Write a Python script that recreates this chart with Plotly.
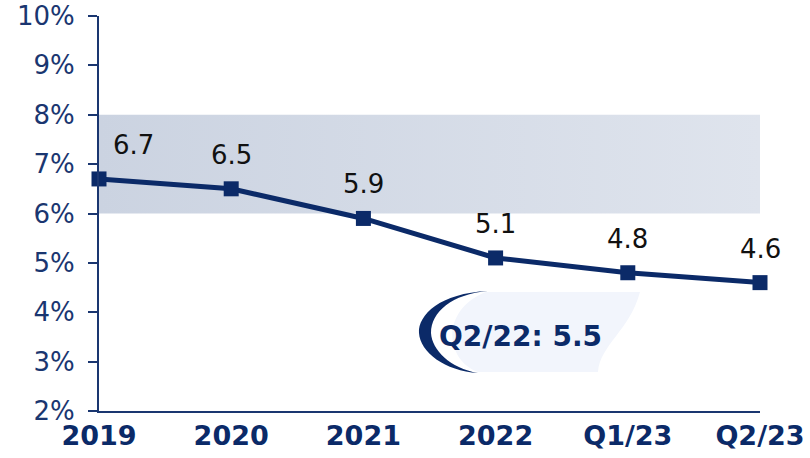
import plotly.graph_objects as go

categories = ["2019", "2020", "2021", "2022", "Q1/23", "Q2/23"]
values = [6.7, 6.5, 5.9, 5.1, 4.8, 4.6]
band_low = 6
band_high = 8
y_ticks = [2, 3, 4, 5, 6, 7, 8, 9, 10]
y_tick_labels = [f"{v}%" for v in y_ticks]
callout_text = "Q2/22: 5.5"

NAVY = "#0b2a68"
TICK = "#1a3670"

xs = list(range(len(categories)))

fig = go.Figure()

# target band with horizontal gradient
fig.add_trace(go.Scatter(
    x=[xs[0], xs[-1], xs[-1], xs[0], xs[0]],
    y=[band_low, band_low, band_high, band_high, band_low],
    mode="lines", line=dict(width=0), fill="toself",
    fillgradient=dict(type="horizontal",
                      colorscale=[[0, "#cbd3e1"], [1, "#dfe4ed"]]),
    hoverinfo="skip", showlegend=False,
))

fig.add_trace(go.Scatter(
    x=xs, y=values, mode="lines+markers",
    line=dict(color=NAVY, width=5),
    marker=dict(symbol="square", size=15, color=NAVY),
    cliponaxis=False, showlegend=False,
))

for i, v in enumerate(values):
    fig.add_annotation(x=xs[i], y=v, text=f"{v}", showarrow=False,
                       yshift=34, xshift=34 if i == 0 else 0,
                       font=dict(family="DejaVu Sans", size=26, color="#111111"))

# callout background (paper coords derived from pixel layout)
L, R, T, B = 99, 760, 16, 411
def px(x): return (x - L) / (R - L)
def py(y): return (B - y) / (B - T)

bg = (f"M {px(486)} {py(292)} L {px(640)} {py(292)} "
      f"C {px(630)} {py(330)}, {px(600)} {py(345)}, {px(598)} {py(372)} "
      f"L {px(478)} {py(372)} C {px(445)} {py(360)}, {px(440)} {py(310)}, {px(486)} {py(292)} Z")
fig.add_shape(type="path", path=bg, xref="paper", yref="paper",
              fillcolor="#f2f5fc", line=dict(width=0), layer="above")

arc = (f"M {px(488)} {py(291)} "
       f"C {px(440)} {py(293)}, {px(418)} {py(315)}, {px(419)} {py(333)} "
       f"C {px(420)} {py(352)}, {px(445)} {py(371)}, {px(478)} {py(373)} "
       f"C {px(450)} {py(368)}, {px(432)} {py(350)}, {px(431)} {py(333)} "
       f"C {px(431)} {py(312)}, {px(452)} {py(294)}, {px(488)} {py(291)} Z")
fig.add_shape(type="path", path=arc, xref="paper", yref="paper",
              fillcolor=NAVY, line=dict(width=0), layer="above")

fig.add_annotation(x=px(520), y=py(336), xref="paper", yref="paper",
                   xanchor="center", yanchor="middle",
                   text=f"<b>{callout_text}</b>", showarrow=False,
                   font=dict(family="DejaVu Sans", size=28, color=NAVY))

fig.update_xaxes(
    range=[xs[0], xs[-1]], tickvals=xs, ticktext=categories,
    showline=True, linecolor=TICK, linewidth=2, showgrid=False,
    ticks="", tickfont=dict(family="DejaVu Sans", size=27, color=NAVY, weight="bold"),
    zeroline=False, automargin=False,
)
fig.update_yaxes(
    range=[2, 10], tickvals=y_ticks, ticktext=y_tick_labels,
    showline=True, linecolor=TICK, linewidth=2, showgrid=False,
    ticks="outside", ticklen=9, tickwidth=2, tickcolor=TICK,
    tickfont=dict(family="DejaVu Sans", size=26, color=TICK),
    ticklabelstandoff=8, zeroline=False, automargin=False,
)
fig.update_layout(
    width=810, height=458,
    margin=dict(l=L, r=810 - R, t=T, b=458 - B),
    plot_bgcolor="white", paper_bgcolor="white",
)
fig.write_html("out.html", config={"displayModeBar": False},
               post_script="document.body.style.margin='0';document.body.style.overflow='hidden';")
